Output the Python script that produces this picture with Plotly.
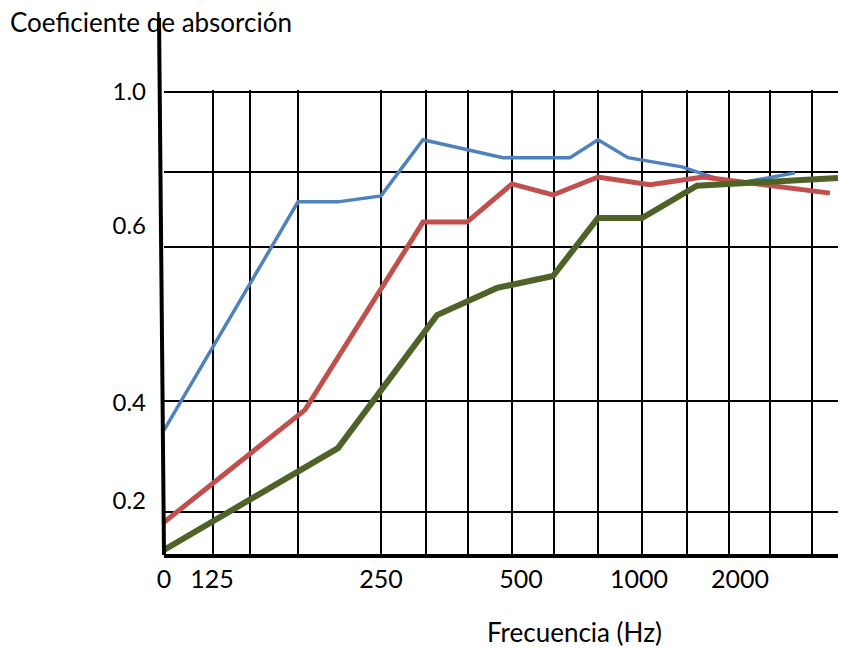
import plotly.graph_objects as go

# Positions along the (hand-drawn) frequency axis, in axis units
blue_x = [0, 134, 174, 217, 259, 339, 406, 434, 464, 518, 556, 581, 631]
blue_y = [0.265, 0.761, 0.761, 0.774, 0.896, 0.857, 0.857, 0.896, 0.857, 0.837, 0.809, 0.804, 0.824]

red_x = [0, 141, 259, 303, 348, 389, 434, 486, 539, 666]
red_y = [0.065, 0.309, 0.717, 0.717, 0.800, 0.776, 0.815, 0.798, 0.815, 0.780]

green_x = [0, 174, 273, 333, 389, 434, 478, 533, 674]
green_y = [0.005, 0.226, 0.515, 0.574, 0.600, 0.726, 0.726, 0.796, 0.813]

x_tick_vals = [0, 48, 217, 357, 475, 576]
x_tick_text = ["0", "125", "250", "500", "1000", "2000"]
x_grid_vals = [49, 86, 134, 217, 262, 304, 348, 390, 434, 478, 523, 565, 606, 648]

y_tick_vals = [1.0, 0.709, 0.324, 0.113]
y_tick_text = ["1.0", "0.6", "0.4", "0.2"]
y_grid_vals = [1.0, 0.826, 0.663, 0.328, 0.087]

FONT = "Lato, Open Sans, sans-serif"

fig = go.Figure()
fig.add_trace(go.Scatter(x=blue_x, y=blue_y, mode="lines",
                         line=dict(color="#4F81BD", width=3.5), showlegend=False))
fig.add_trace(go.Scatter(x=red_x, y=red_y, mode="lines",
                         line=dict(color="#C0504D", width=5), showlegend=False))
fig.add_trace(go.Scatter(x=green_x, y=green_y, mode="lines",
                         line=dict(color="#4F6228", width=6), showlegend=False))

fig.update_layout(
    width=838, height=640,
    margin=dict(l=156, r=0, t=82, b=94),
    paper_bgcolor="white", plot_bgcolor="white",
    font=dict(family=FONT, size=24, color="black"),
    xaxis=dict(range=[0, 682], showgrid=False, zeroline=False,
               showline=True, linecolor="black", linewidth=4,
               tickmode="array", tickvals=x_tick_vals, ticktext=x_tick_text,
               ticks="", ticklabelstandoff=0,
               tickfont=dict(family=FONT, size=25, color="black"),
               minor=dict(tickmode="array", tickvals=x_grid_vals, showgrid=True,
                          gridcolor="black", gridwidth=2, ticks="")),
    yaxis=dict(range=[-0.004, 1.004], showgrid=False, zeroline=False,
               showline=False,
               tickmode="array", tickvals=y_tick_vals, ticktext=y_tick_text,
               ticks="", ticklabelstandoff=17,
               tickfont=dict(family=FONT, size=24, color="black"),
               minor=dict(tickmode="array", tickvals=y_grid_vals, showgrid=True,
                          gridcolor="black", gridwidth=2, ticks="")),
)

# tilted hand-drawn y axis line
fig.add_shape(type="line", xref="paper", yref="paper",
              x0=0.0, y0=-0.002, x1=-0.0073, y1=1.155,
              line=dict(color="black", width=4))

fig.add_annotation(text="Coeficiente de absorción", xref="paper", yref="paper",
                   x=-0.2287, y=1.1466, xanchor="left", yanchor="middle",
                   showarrow=False, font=dict(family=FONT, size=26, color="black"))
fig.add_annotation(text="Frecuencia (Hz)", xref="paper", yref="paper",
                   x=0.6026, y=-0.168, xanchor="center", yanchor="middle",
                   showarrow=False, font=dict(family=FONT, size=26, color="black"))

fig.write_html("out.html")
